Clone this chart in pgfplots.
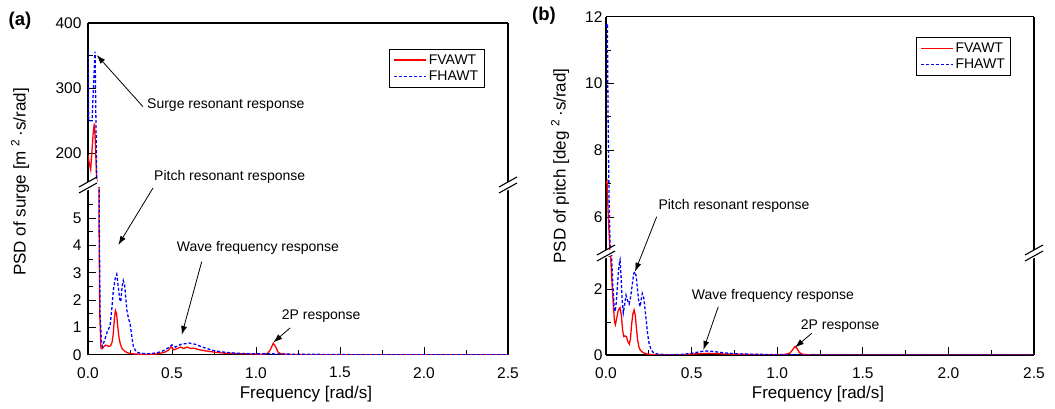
\documentclass[border=0pt]{standalone}
\usepackage{pgfplots}
\pgfplotsset{compat=1.18}
\usepackage{pgfplotstable}
\usepackage{fontspec}
\setmainfont{Liberation Sans}
\usetikzlibrary{arrows.meta}

% (a) PSD of surge, FVAWT
\pgfplotstableread{
x y
0.000 197
0.008 184
0.016 175
0.024 205
0.031 232
0.038 246
0.044 215
0.052 156
0.0655 5.0
0.070 1.5
0.077 0.24
0.085 0.22
0.095 0.30
0.105 0.35
0.115 0.33
0.125 0.30
0.135 0.33
0.143 0.45
0.150 0.75
0.157 1.30
0.163 1.62
0.170 1.50
0.177 1.05
0.185 0.60
0.193 0.38
0.203 0.22
0.220 0.12
0.240 0.06
0.270 0.03
0.300 0.02
0.350 0.01
0.400 0.02
0.430 0.05
0.460 0.10
0.480 0.17
0.494 0.29
0.510 0.18
0.530 0.22
0.550 0.28
0.570 0.23
0.590 0.28
0.610 0.23
0.630 0.24
0.650 0.20
0.680 0.16
0.710 0.13
0.746 0.10
0.800 0.06
0.850 0.05
0.900 0.04
0.950 0.03
1.000 0.02
1.050 0.02
1.070 0.05
1.085 0.18
1.103 0.42
1.118 0.28
1.132 0.09
1.150 0.03
1.200 0.01
1.300 0.00
2.500 0.00
}\surgeV

% (a) PSD of surge, FHAWT
\pgfplotstableread{
x y
0.001 356
0.004 250
0.024 250
0.034 310
0.042 356
0.052 156
0.067 5.0
0.072 1.5
0.080 0.50
0.085 0.30
0.100 0.55
0.115 0.85
0.131 1.05
0.142 1.70
0.151 2.37
0.162 2.80
0.171 2.95
0.180 2.50
0.188 2.05
0.195 1.94
0.203 2.50
0.210 2.72
0.218 2.55
0.226 2.00
0.232 1.60
0.242 1.30
0.250 1.16
0.260 0.70
0.270 0.30
0.285 0.12
0.310 0.05
0.360 0.03
0.400 0.06
0.430 0.10
0.460 0.18
0.480 0.26
0.500 0.36
0.520 0.28
0.540 0.34
0.560 0.40
0.580 0.40
0.600 0.43
0.620 0.40
0.640 0.38
0.660 0.33
0.690 0.26
0.720 0.20
0.750 0.15
0.800 0.10
0.850 0.07
0.900 0.05
0.950 0.04
1.000 0.03
1.100 0.03
1.200 0.02
1.400 0.01
1.600 0.00
2.500 0.00
}\surgeH

% (b) PSD of pitch, FVAWT
\pgfplotstableread{
x y
0.000 7.00
0.006 7.07
0.012 6.20
0.018 5.50
0.023 5.00
0.027 3.00
0.035 2.20
0.043 1.50
0.050 1.00
0.055 0.92
0.062 1.10
0.070 1.32
0.076 1.40
0.082 1.44
0.090 1.20
0.097 0.75
0.104 0.56
0.112 0.58
0.120 0.55
0.128 0.40
0.136 0.33
0.143 0.50
0.150 0.95
0.157 1.25
0.164 1.37
0.171 1.20
0.178 0.80
0.185 0.45
0.192 0.25
0.200 0.15
0.210 0.10
0.225 0.05
0.250 0.02
0.300 0.01
0.400 0.00
0.450 0.01
0.500 0.03
0.550 0.04
0.600 0.05
0.650 0.04
0.700 0.03
0.800 0.02
0.900 0.01
1.000 0.01
1.050 0.02
1.075 0.06
1.090 0.16
1.104 0.26
1.118 0.18
1.130 0.07
1.150 0.02
1.200 0.00
2.500 0.00
}\pitchV

% (b) PSD of pitch, FHAWT
\pgfplotstableread{
x y
0.000 11.70
0.008 11.80
0.012 9.00
0.018 6.50
0.025 5.00
0.033 3.00
0.040 2.10
0.047 1.50
0.053 1.32
0.060 1.60
0.068 2.20
0.075 2.70
0.082 2.88
0.088 2.40
0.094 1.70
0.101 1.28
0.108 1.50
0.117 1.82
0.126 1.65
0.135 1.55
0.145 1.80
0.155 2.20
0.162 2.48
0.169 2.53
0.176 2.40
0.184 2.00
0.192 1.60
0.199 1.47
0.206 1.70
0.212 1.87
0.220 1.75
0.228 1.40
0.236 1.00
0.244 0.60
0.252 0.35
0.262 0.18
0.275 0.08
0.300 0.03
0.350 0.01
0.400 0.01
0.450 0.02
0.500 0.05
0.530 0.08
0.560 0.11
0.590 0.12
0.620 0.11
0.650 0.09
0.700 0.06
0.750 0.04
0.800 0.03
0.900 0.02
1.000 0.01
1.200 0.00
2.500 0.00
}\pitchH

\pgfplotsset{
  base/.style={
    scale only axis, xmin=0, xmax=2.5,
    axis line style={line width=1.1pt},
    tick style={black, line width=1pt},
    tick align=inside,
    major tick length=8pt, minor tick length=5pt,
    /pgf/number format/assume math mode=true,
    ticklabel style={font=\fontsize{15.5}{15.5}\selectfont},
    clip=true,
  },
  lowerax/.style={
    base,
    axis x line*=bottom, axis y line*=box,
    xtick={0,0.5,1,1.5,2,2.5},
    minor xtick={0.25,0.75,1.25,1.75,2.25},
    xtick pos=bottom, ytick pos=left,
    xticklabel style={/pgf/number format/fixed,
      /pgf/number format/fixed zerofill,
      /pgf/number format/precision=1, yshift=-9pt},
  },
  upperax/.style={
    base,
    axis x line*=top, axis y line*=box,
    xtick=\empty, ytick pos=left,
    legend style={draw=black, line width=0.8pt,
      font=\fontsize{14}{16}\selectfont,
      cells={anchor=west}, inner xsep=4pt, inner ysep=3pt, row sep=1.5pt},
    legend image code/.code={\draw[##1, line width=1.3pt] (0pt,0pt) -- (32pt,0pt);},
  },
  vawt/.style={color={rgb,255:red,255;green,0;blue,0}, line width=1.3pt, solid},
  hawt/.style={color={rgb,255:red,0;green,0;blue,255}, line width=1.3pt, dash pattern=on 3pt off 2pt},
}

\begin{document}
\begin{tikzpicture}[x=1pt,y=1pt]
\useasboundingbox (0,0) rectangle (1055,409);

% ---------------- Panel (a) ----------------
\begin{axis}[lowerax, at={(88pt,54.3pt)}, anchor=south west,
  width=420pt, height=166.7pt, ymin=0, ymax=6.11,
  ytick={0,1,2,3,4,5}, minor ytick={0.5,1.5,2.5,3.5,4.5,5.5},
  yticklabel style={xshift=-3pt}]
  \addplot[vawt] table[x=x,y=y] {\surgeV};
  \addplot[hawt] table[x=x,y=y] {\surgeH};
\end{axis}
\begin{axis}[upperax, at={(88pt,227pt)}, anchor=south west,
  width=420pt, height=159pt, ymin=156, ymax=400,
  ytick={200,300,400}, minor ytick={250,350},
  yticklabel style={xshift=-3pt},
  legend style={at={(0.717,0.836)}, anchor=north west}]
  \addplot[vawt] table[x=x,y=y] {\surgeV};
  \addlegendentry{FVAWT}
  \addplot[hawt] table[x=x,y=y] {\surgeH};
  \addlegendentry{FHAWT}
\end{axis}

% ---------------- Panel (b) ----------------
\begin{axis}[lowerax, at={(606pt,54pt)}, anchor=south west,
  width=428pt, height=99pt, ymin=0, ymax=3.01,
  ytick={0,2}, minor ytick={1,3}]
  \addplot[vawt] table[x=x,y=y] {\pitchV};
  \addplot[hawt] table[x=x,y=y] {\pitchH};
\end{axis}
\begin{axis}[upperax, at={(606pt,159pt)}, anchor=south west,
  width=428pt, height=233.3pt, ymin=5.02, ymax=12,
  ytick={6,8,10,12}, minor ytick={7,9,11},
  legend style={at={(0.724,0.912)}, anchor=north west}]
  \addplot[vawt] table[x=x,y=y] {\pitchV};
  \addlegendentry{FVAWT}
  \addplot[hawt] table[x=x,y=y] {\pitchH};
  \addlegendentry{FHAWT}
\end{axis}

% ---------------- axis breaks ----------------
\foreach \bx/\by in {88/224, 508/224, 606/156, 1034/156} {
  \fill[white] (\bx-9,\by+1-5) -- (\bx+9,\by+1+5) -- (\bx+9,\by-5+5) -- (\bx-9,\by-5-5) -- cycle;
  \draw[line width=1.1pt] (\bx-9,\by+3-5) -- (\bx+9,\by+3+5);
  \draw[line width=1.1pt] (\bx-9,\by-3-5) -- (\bx+9,\by-3+5);
}

% ---------------- labels ----------------
\node[font=\fontsize{17}{17}\selectfont] at (306,15) {Frequency [rad/s]};
\node[font=\fontsize{17}{17}\selectfont] at (818,15) {Frequency [rad/s]};
\node[rotate=90, font=\fontsize{17}{17}\selectfont] at (20,227) {PSD of surge [m \textsuperscript{2}\,·s/rad]};
\node[rotate=90, font=\fontsize{17}{17}\selectfont] at (560,243) {PSD of pitch [deg \textsuperscript{2}\,·s/rad]};
\node[font=\bfseries\fontsize{18.5}{18.5}\selectfont] at (20,388) {(a)};
\node[font=\bfseries\fontsize{18.5}{18.5}\selectfont] at (544,393) {(b)};

% ---------------- annotations ----------------
\begin{scope}[font=\fontsize{14}{15}\selectfont, every node/.style={anchor=west, inner sep=0pt},
  arr/.style={-{Latex[length=9pt,width=6pt]}, line width=0.8pt}]
  \node at (147,304) {Surge resonant response};
  \draw[arr] (143,302.3) -- (96.7,354);
  \node at (154,232) {Pitch resonant response};
  \draw[arr] (153,221) -- (118.3,164);
  \node at (176.7,160.7) {Wave frequency response};
  \draw[arr] (201.7,147.3) -- (181.7,74);
  \node at (281.7,93.3) {2P response};
  \draw[arr] (290,81) -- (273.3,66.5);

  \node at (658.3,203.3) {Pitch resonant response};
  \draw[arr] (656.7,192.3) -- (635,137.3);
  \node at (691.7,113.3) {Wave frequency response};
  \draw[arr] (718.3,102.3) -- (703.3,59);
  \node at (800.7,83) {2P response};
  \draw[arr] (811.7,75.7) -- (795,61.5);
\end{scope}
\end{tikzpicture}
\end{document}
